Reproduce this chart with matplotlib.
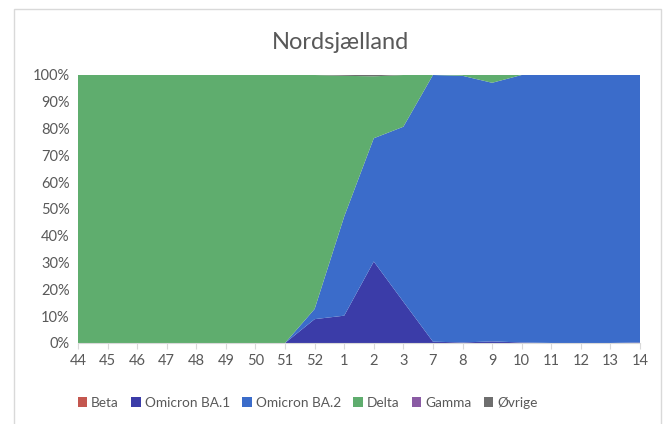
import matplotlib
matplotlib.use('Agg')
import matplotlib.pyplot as plt
from matplotlib.patches import Patch, Rectangle

plt.rcParams['font.family'] = ['Lato', 'DejaVu Sans']

# Weeks and variant shares (%)
weeks = ['44', '45', '46', '47', '48', '49', '50', '51', '52', '1', '2', '3',
         '7', '8', '9', '10', '11', '12', '13', '14']
beta = [0, 0, 0, 0, 0, 0, 0, 0, 0, 0, 0, 0, 0, 0, 0, 0, 0, 0, 0, 0]
ba1 = [0, 0, 0, 0, 0, 0, 0, 0, 8.9, 10.2, 30.4, 15.4, 0.5, 0.2, 0.6, 0.2, 0, 0, 0, 0.2]
ba2 = [0, 0, 0, 0, 0, 0, 0, 0, 3.8, 37.0, 46.0, 65.3, 99.5, 99.5, 96.5, 99.8, 100, 100, 100, 99.8]
delta = [100, 100, 100, 100, 100, 100, 100, 100, 87.3, 52.5, 23.1, 19.3, 0, 0.3, 2.9, 0, 0, 0, 0, 0]
gamma = [0, 0, 0, 0, 0, 0, 0, 0, 0, 0, 0, 0, 0, 0, 0, 0, 0, 0, 0, 0]
ovrige = [0, 0, 0, 0, 0, 0, 0, 0, 0, 0.3, 0.5, 0, 0, 0, 0, 0, 0, 0, 0, 0]

labels = ['Beta', 'Omicron BA.1', 'Omicron BA.2', 'Delta', 'Gamma', 'Øvrige']
colors = ['#C4574F', '#3B3CA8', '#3B6CCA', '#5FAD6E', '#8A5BA4', '#6E6E6E']

fig = plt.figure(figsize=(6.66, 4.24), dpi=100)
fig.patches.append(Rectangle((14 / 666, -0.1), 647 / 666, 1 - 9 / 424 + 0.1,
                             transform=fig.transFigure, fill=False,
                             edgecolor='#D9D9D9', linewidth=1))
ax = fig.add_axes([78 / 666, (424 - 343) / 424, 562 / 666, 268 / 424])

x = list(range(len(weeks)))
ax.stackplot(x, beta, ba1, ba2, delta, gamma, ovrige, colors=colors, linewidth=0)

ax.set_xlim(0, len(weeks) - 1)
ax.set_ylim(0, 100)
ax.set_xticks(x)
ax.set_xticklabels(weeks)
ax.set_yticks(range(0, 101, 10))
ax.set_yticklabels([f'{v}%' for v in range(0, 101, 10)])

for s in ['top', 'right', 'left']:
    ax.spines[s].set_visible(False)
ax.spines['bottom'].set_color('#D9D9D9')
ax.tick_params(axis='y', length=0, labelsize=10.5, colors='#595959', pad=6)
ax.tick_params(axis='x', length=4, color='#D9D9D9', labelsize=10.5,
               labelcolor='#595959', pad=4)

fig.text(0.511, 0.9, 'Nordsjælland', ha='center', va='center',
         fontsize=17, color='#595959')

handles = [Patch(facecolor=c, edgecolor='none') for c in colors]
fig.legend(handles, labels, loc='center', bbox_to_anchor=(0.462, 0.05), ncol=6,
           frameon=False, fontsize=9.8, labelcolor='#595959',
           handlelength=0.7, handleheight=0.7, handletextpad=0.3,
           columnspacing=0.9)

fig.savefig('out.png', dpi=100)
